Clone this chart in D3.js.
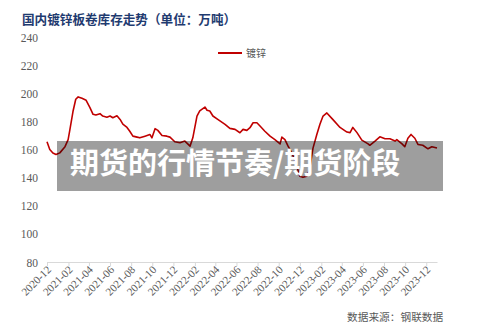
<!DOCTYPE html>
<html><head><meta charset="utf-8">
<script src="https://cdn.jsdelivr.net/npm/d3@7/dist/d3.min.js"></script>
<style>
html,body{margin:0;padding:0;background:#fff;}
svg{display:block;}
</style></head>
<body>
<svg id="chart" width="500" height="332"></svg>
<script>
const title = "国内镀锌板卷库存走势（单位：万吨）";
const seriesName = "镀锌";
const source = "数据来源：钢联数据";
const overlayText = "期货的行情节奏/期货阶段";
const yTicks = [80, 100, 120, 140, 160, 180, 200, 220, 240];
const xTickLabels = ["2020-12","2021-02","2021-04","2021-06","2021-08","2021-10","2021-12","2022-02","2022-04","2022-06","2022-08","2022-10","2022-12","2023-02","2023-04","2023-06","2023-08","2023-10","2023-12"];
const dates = [
"2020-12-01","2020-12-09","2020-12-18","2020-12-27","2021-01-07","2021-01-22","2021-01-31","2021-02-05","2021-02-14","2021-02-22",
"2021-03-01","2021-03-12","2021-03-24","2021-04-04","2021-04-13","2021-04-21","2021-05-03","2021-05-11","2021-05-23","2021-06-01",
"2021-06-09","2021-06-21","2021-06-30","2021-07-08","2021-07-20","2021-07-28","2021-08-06","2021-08-18","2021-08-26","2021-09-10",
"2021-09-24","2021-09-30","2021-10-09","2021-10-17","2021-10-29","2021-11-12","2021-11-21","2021-12-05","2021-12-20","2022-01-03",
"2022-01-18","2022-01-26","2022-02-07","2022-02-15","2022-03-02","2022-03-08","2022-03-16","2022-03-25","2022-04-08","2022-04-29",
"2022-05-13","2022-05-28","2022-06-11","2022-06-20","2022-07-01","2022-07-10","2022-07-19","2022-07-30","2022-08-08","2022-08-22",
"2022-09-06","2022-09-20","2022-10-05","2022-10-10","2022-10-19","2022-10-28","2022-11-08","2022-11-20","2022-12-01","2022-12-10",
"2022-12-21","2022-12-29","2023-01-08","2023-01-19","2023-01-28","2023-02-06","2023-02-17","2023-03-06","2023-03-27","2023-04-16",
"2023-04-25","2023-05-03","2023-05-15","2023-05-29","2023-06-16","2023-06-21","2023-07-06","2023-07-20","2023-08-04","2023-08-18",
"2023-09-02","2023-09-07","2023-09-22","2023-09-30","2023-10-09","2023-10-18","2023-10-29","2023-11-07","2023-11-21","2023-12-06",
"2023-12-17","2024-01-01"
];
const values = [
165.5,160,157.5,156.4,157.6,162,167,174,187,195.7,
197.4,196.4,195,189.8,185,184.5,185.5,183.8,183,183.8,
182.6,184,181.4,178,175.7,173,169.5,168.8,168.3,169.5,
170.7,168.3,174.8,173.6,170,169.5,168.8,165.5,164.8,166,
162.4,168.3,183.8,187.4,190.2,187.9,187.4,183.8,181.4,177.9,
175,174.3,171.9,174.3,173.6,175.5,179,179,176.7,173,
169.5,167,164,168.8,167,162.4,157.6,150,140.9,140.2,
141,145.7,161,170.7,178,183.8,186,181.4,175.7,172.4,
172,175.7,172,166.7,164,163,166,169,167.6,167.6,
166,167,164,162,168,170.7,168,163.6,163,160.5,
162,161
];

const parse = d3.timeParse("%Y-%m-%d");
const parseMonth = d3.timeParse("%Y-%m");
const data = dates.map((d, i) => ({date: parse(d), value: values[i]}));

const svg = d3.select("#chart");
const x = d3.scaleTime()
  .domain([parse("2020-12-01"), parse("2024-01-01")])
  .range([47, 437]);
const y = d3.scaleLinear().domain([80, 240]).range([262, 37]);

const serif = "'Liberation Serif','DejaVu Serif',serif";
const cjk = "'Noto Sans CJK SC','Noto Sans',sans-serif";

// Title
svg.append("text").attr("x", 22).attr("y", 24)
  .attr("font-family", cjk).attr("font-weight", "bold").attr("font-size", 12.6)
  .attr("fill", "#1f3b70").text(title);

// Y axis labels
const yAxis = d3.axisLeft(y).tickValues(yTicks).tickSize(0).tickPadding(0);
const gy = svg.append("g").attr("transform", "translate(38,0)").call(yAxis);
gy.select(".domain").remove();
gy.selectAll("text").attr("font-family", serif).attr("font-size", 11.5).attr("fill", "#595959").attr("dy", "0.35em");

// X axis
const xTickDates = xTickLabels.map(parseMonth);
const xAxis = d3.axisBottom(x).tickValues(xTickDates).tickFormat(d3.timeFormat("%Y-%m")).tickSize(4).tickSizeOuter(0);
const gx = svg.append("g").attr("transform", "translate(0,262)").call(xAxis);
gx.select(".domain").attr("stroke", "#d9d9d9");
gx.selectAll(".tick line").attr("stroke", "#d9d9d9");
gx.selectAll("text")
  .attr("font-family", serif).attr("font-size", 11).attr("fill", "#595959")
  .attr("text-anchor", "end").attr("dy", "0.3em")
  .attr("transform", "translate(2,6) rotate(-45)")
  .attr("y", 0).attr("x", 0);

// Line
const line = d3.line().x(d => x(d.date)).y(d => y(d.value));
svg.append("path").datum(data).attr("d", line)
  .attr("fill", "none").attr("stroke", "#c00000").attr("stroke-width", 1.6)
  .attr("stroke-linejoin", "round");

// Legend
svg.append("line").attr("x1", 218).attr("x2", 242).attr("y1", 53).attr("y2", 53)
  .attr("stroke", "#c00000").attr("stroke-width", 2);
svg.append("text").attr("x", 246).attr("y", 57)
  .attr("font-family", cjk).attr("font-size", 10).attr("fill", "#595959").text(seriesName);

// Source
svg.append("text").attr("x", 347).attr("y", 321)
  .attr("font-family", cjk).attr("font-size", 10.7).attr("fill", "#595959").text(source);

// Overlay
svg.append("rect").attr("x", 57).attr("y", 141).attr("width", 386).attr("height", 50)
  .attr("fill", "rgba(0,0,0,0.38)");
svg.append("text").attr("x", 70).attr("y", 174)
  .attr("font-family", cjk).attr("font-weight", "bold").attr("font-size", 29)
  .attr("fill", "#ffffff").text(overlayText);
</script>
</body></html>
